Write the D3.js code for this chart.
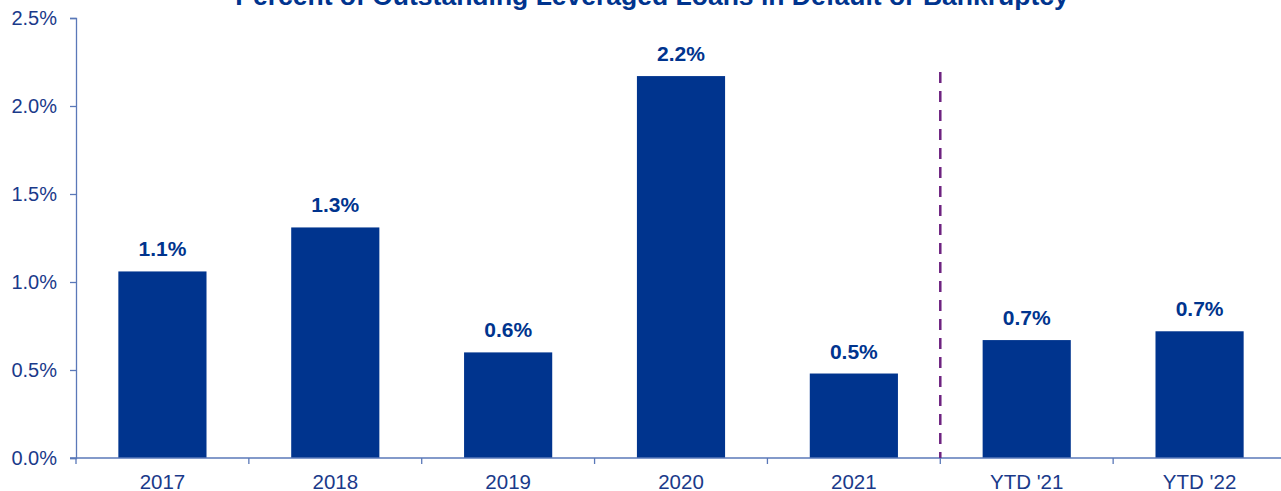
<!DOCTYPE html>
<html>
<head>
<meta charset="utf-8">
<script src="https://cdn.jsdelivr.net/npm/d3@7"></script>
<style>
  body { margin: 0; background: #fff; }
  svg { display: block; font-family: "Liberation Sans", Arial, sans-serif; }
</style>
</head>
<body>
<div id="chart"></div>
<script>
// data (percent)
const categories = ['2017', '2018', '2019', '2020', '2021', "YTD '21", "YTD '22"];
const defaultRates = [1.06, 1.31, 0.60, 2.17, 0.48, 0.67, 0.72];
const yTicks = [0, 0.5, 1.0, 1.5, 2.0, 2.5];
const dividerBefore = "YTD '21";
const chartTitle = 'Percent of Outstanding Leveraged Loans in Default or Bankruptcy';

const width = 1281, height = 491;
const margin = {top: 18, right: -5, bottom: 33, left: 76};

const barColor = '#00348E';
const textColor = '#1A3A8A';
const axisColor = '#5A78B8';

const svg = d3.select('#chart').append('svg')
    .attr('width', width)
    .attr('height', height);

const x = d3.scaleBand()
    .domain(categories)
    .range([margin.left, width - margin.right])
    .padding(0);

const y = d3.scaleLinear()
    .domain([0, 2.5])
    .range([height - margin.bottom, margin.top]);

// title (cut off at top like the original)
svg.append('text')
    .attr('x', 652)
    .attr('y', 5)
    .attr('text-anchor', 'middle')
    .attr('font-size', 26.5)
    .attr('font-weight', 'bold')
    .attr('fill', barColor)
    .text(chartTitle);

// bars
const barFrac = 0.51;
svg.append('g').selectAll('rect')
    .data(categories)
  .join('rect')
    .attr('x', d => x(d) + x.bandwidth() * (1 - barFrac) / 2)
    .attr('width', x.bandwidth() * barFrac)
    .attr('y', (d, i) => y(defaultRates[i]))
    .attr('height', (d, i) => y(0) - y(defaultRates[i]))
    .attr('fill', barColor);

// value labels
svg.append('g').selectAll('text')
    .data(categories)
  .join('text')
    .attr('x', d => x(d) + x.bandwidth() / 2)
    .attr('y', (d, i) => y(defaultRates[i]) - 15)
    .attr('text-anchor', 'middle')
    .attr('font-size', 21)
    .attr('font-weight', 'bold')
    .attr('fill', barColor)
    .text((d, i) => d3.format('.1f')(defaultRates[i]) + '%');

// y axis
const yAxis = svg.append('g')
    .attr('transform', `translate(${margin.left},0)`)
    .call(d3.axisLeft(y)
      .tickValues(yTicks)
      .tickSize(6)
      .tickPadding(13)
      .tickFormat(d => d3.format('.1f')(d) + '%'));

// x axis, ticks at band edges
const xAxis = svg.append('g')
    .attr('transform', `translate(0,${y(0)})`)
    .call(d3.axisBottom(x).tickSize(0).tickPadding(16));

xAxis.selectAll('.tick line').remove();
xAxis.append('g').selectAll('line')
    .data(categories)
  .join('line')
    .attr('x1', d => x(d))
    .attr('x2', d => x(d))
    .attr('y1', 0)
    .attr('y2', 6)
    .attr('stroke', axisColor)
    .attr('stroke-width', 1.3);

[yAxis, xAxis].forEach(ax => {
  ax.select('.domain').attr('stroke', axisColor).attr('stroke-width', 1.3);
  ax.selectAll('.tick line').attr('stroke', axisColor).attr('stroke-width', 1.3);
  ax.selectAll('.tick text')
      .attr('font-size', 20)
      .attr('font-family', '"Liberation Sans", Arial, sans-serif')
      .attr('fill', textColor);
});
xAxis.selectAll('.tick text').attr('font-size', 20.5);
xAxis.select('.domain').attr('d', `M${margin.left - 6},0H${width}`);

// dashed divider between full years and YTD
svg.append('line')
    .attr('x1', x(dividerBefore))
    .attr('x2', x(dividerBefore))
    .attr('y1', y(2.17) - 4)
    .attr('y2', y(0))
    .attr('stroke', '#6E2380')
    .attr('stroke-width', 2.5)
    .attr('stroke-dasharray', '11,8');
</script>
</body>
</html>
